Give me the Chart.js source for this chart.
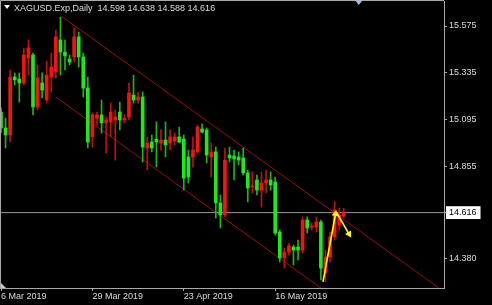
<!DOCTYPE html>
<html>
<head>
<meta charset="utf-8">
<script src="https://cdn.jsdelivr.net/npm/chart.js@4.4.1/dist/chart.umd.min.js"></script>
<style>
html, body { margin: 0; padding: 0; background: #000; overflow: hidden; }
</style>
</head>
<body>
<canvas id="plot" width="492" height="305"></canvas>
<script>
// chart header
const symbolTitle = 'XAGUSD.Exp,Daily  14.598 14.638 14.588 14.616';

// daily candles, index 0 = 6 Mar 2019 (broker has sunday bars)
const opens  = [15.133, 15.051, 15.015, 15.313, 15.303, 15.282, 15.411, 15.426, 15.159, 15.282,
                15.195, 15.313, 15.339, 15.503, 15.441, 15.405, 15.416, 15.519, 15.416, 15.256,
                15.005, 15.102, 15.118, 15.077, 15.082, 15.092, 15.133, 15.092, 15.107, 15.220,
                15.195, 15.210, 14.948, 14.979, 14.994, 14.974, 14.989, 14.974, 14.984, 15.005,
                14.994, 14.902, 14.902, 14.928, 15.046, 15.041, 14.902, 14.928, 14.666, 14.604,
                14.912, 14.907, 14.902, 14.897, 14.820, 14.748, 14.784, 14.732, 14.768, 14.784,
                14.773, 14.516, 14.383, 14.414, 14.439, 14.439, 14.424, 14.578, 14.542, 14.542,
                14.568, 14.306, 14.388, 14.491, 14.552, 14.598];
const highs  = [15.154, 15.102, 15.349, 15.334, 15.334, 15.462, 15.503, 15.436, 15.375, 15.334,
                15.395, 15.436, 15.554, 15.621, 15.503, 15.426, 15.565, 15.544, 15.436, 15.313,
                15.128, 15.133, 15.195, 15.107, 15.179, 15.143, 15.184, 15.118, 15.282, 15.323,
                15.236, 15.236, 15.005, 15.015, 15.082, 15.041, 15.082, 15.041, 15.025, 15.056,
                15.015, 14.938, 15.005, 15.066, 15.071, 15.051, 14.974, 14.953, 14.707, 14.948,
                14.953, 14.938, 14.928, 14.948, 14.835, 14.825, 14.809, 14.825, 14.835, 14.825,
                14.799, 14.527, 14.434, 14.460, 14.450, 14.475, 14.594, 14.594, 14.563, 14.594,
                14.578, 14.424, 14.516, 14.671, 14.640, 14.638];
const lows   = [15.025, 14.948, 14.979, 15.272, 15.184, 15.272, 15.323, 15.118, 15.143, 15.205,
                15.179, 15.236, 15.308, 15.323, 15.349, 15.375, 15.390, 15.364, 15.210, 14.948,
                14.953, 15.066, 15.025, 14.922, 15.005, 14.886, 15.041, 15.077, 15.092, 15.179,
                15.179, 14.876, 14.835, 14.928, 14.850, 14.938, 14.902, 14.938, 14.964, 14.974,
                14.732, 14.768, 14.850, 14.922, 15.025, 14.871, 14.799, 14.588, 14.537, 14.594,
                14.876, 14.784, 14.861, 14.809, 14.671, 14.717, 14.707, 14.645, 14.717, 14.732,
                14.501, 14.362, 14.331, 14.398, 14.347, 14.373, 14.409, 14.511, 14.527, 14.516,
                14.270, 14.260, 14.362, 14.475, 14.527, 14.588];
const closes = [15.051, 15.015, 15.313, 15.298, 15.282, 15.426, 15.462, 15.159, 15.308, 15.246,
                15.323, 15.364, 15.519, 15.441, 15.421, 15.390, 15.519, 15.416, 15.256, 14.979,
                15.118, 15.118, 15.077, 15.092, 15.133, 15.107, 15.092, 15.102, 15.231, 15.195,
                15.210, 14.953, 14.974, 14.948, 14.979, 14.989, 14.964, 15.005, 15.005, 14.979,
                14.794, 14.799, 14.938, 15.056, 15.030, 14.912, 14.928, 14.666, 14.604, 14.886,
                14.897, 14.892, 14.886, 14.820, 14.743, 14.753, 14.732, 14.768, 14.784, 14.758,
                14.511, 14.383, 14.414, 14.445, 14.424, 14.424, 14.578, 14.537, 14.547, 14.568,
                14.331, 14.388, 14.491, 14.630, 14.604, 14.616];

// axes
const dateTickIdx  = [0, 20, 40, 60];
const dateTickText = ['6 Mar 2019', '29 Mar 2019', '23 Apr 2019', '16 May 2019'];
const priceTicks   = [15.575, 15.335, 15.095, 14.855, 14.616, 14.380];
const lastPrice    = 14.616;
const xRange = [-0.22, 96.94];
const yRange = [14.2287, 15.7035];
const shiftMarkIdx = 78.3;

// drawn objects: equidistant channel + yellow arrows  (bar index, price)
const upperChannelX = [13.35, 100];
const upperChannelY = [15.623, 14.158];
const lowerChannelX = [12.04, 100];
const lowerChannelY = [15.209, 13.721];
const arrowUpX   = [70.46, 73.2];
const arrowUpY   = [14.260, 14.609];
const arrowDownX = [73.5, 76.15];
const arrowDownY = [14.614, 14.506];

const upCol = '#f21414', downCol = '#1ee81e';
const upWick = '#c01010', downWick = '#18b818';
const txtCol = '#dcdcdc', frameCol = '#a8a8a8';
const font9 = { family: 'Liberation Sans', size: 9 };

const isUp = opens.map((o, i) => closes[i] >= o);
const wickData = highs.map((h, i) => ({ x: i, y: [lows[i], h] }));
const bodyData = opens.map((o, i) => ({ x: i, y: [Math.min(o, closes[i]), Math.max(o, closes[i])] }));
const pts = (xs, ys) => xs.map((x, i) => ({ x: x, y: ys[i] }));

const mt4Frame = {
    id: 'mt4Frame',
    afterDraw(chart) {
        const c = chart.ctx, a = chart.chartArea;
        c.save();
        // top + left frame lines
        c.strokeStyle = frameCol;
        c.lineWidth = 1;
        c.beginPath();
        c.moveTo(0.5, a.bottom);
        c.lineTo(0.5, a.top - 0.5);
        c.lineTo(a.right, a.top - 0.5);
        c.stroke();
        // title
        c.fillStyle = '#ffffff';
        c.beginPath();
        c.moveTo(4, 5); c.lineTo(10, 5); c.lineTo(7, 9); c.closePath();
        c.fill();
        c.font = '9px "Liberation Sans"';
        c.fillStyle = txtCol;
        c.textBaseline = 'alphabetic';
        c.fillText(symbolTitle, 14, 11);
        // chart shift marker
        const sx = chart.scales.x.getPixelForValue(shiftMarkIdx);
        c.fillStyle = '#a9bccf';
        c.beginPath();
        c.moveTo(sx - 4, 0); c.lineTo(sx + 4, 0); c.lineTo(sx, 5); c.closePath();
        c.fill();
        // corner marker
        c.fillStyle = '#c8c8c8';
        c.beginPath();
        c.moveTo(1, a.bottom - 5); c.lineTo(6, a.bottom); c.lineTo(1, a.bottom); c.closePath();
        c.fill();
        c.restore();
    }
};

new Chart(document.getElementById('plot'), {
    type: 'bar',
    data: {
        datasets: [
            {
                type: 'line', order: 0, data: pts(arrowUpX, arrowUpY),
                borderColor: '#ffff00', borderWidth: 1.6,
                pointRadius: [0, 4], pointStyle: 'triangle', rotation: [0, 10],
                pointBackgroundColor: '#ffff00', pointBorderWidth: 0
            },
            {
                type: 'line', order: 0, data: pts(arrowDownX, arrowDownY),
                borderColor: '#ffff00', borderWidth: 1.6,
                pointRadius: [0, 4], pointStyle: 'triangle', rotation: [0, 150],
                pointBackgroundColor: '#ffff00', pointBorderWidth: 0
            },
            {
                order: 1, data: bodyData, grouped: false, barThickness: 3, minBarLength: 1,
                backgroundColor: isUp.map(u => u ? upCol : downCol), borderWidth: 0
            },
            {
                order: 2, data: wickData, grouped: false, barThickness: 1,
                backgroundColor: isUp.map(u => u ? upWick : downWick), borderWidth: 0
            },
            {
                type: 'line', order: 3,
                data: pts([xRange[0], xRange[1]], [lastPrice, lastPrice]),
                borderColor: '#9a9a9a', borderWidth: 1, pointRadius: 0
            },
            {
                type: 'line', order: 4, data: pts(upperChannelX, upperChannelY),
                borderColor: '#9a0f0f', borderWidth: 1, pointRadius: 0
            },
            {
                type: 'line', order: 4, data: pts(lowerChannelX, lowerChannelY),
                borderColor: '#9a0f0f', borderWidth: 1, pointRadius: 0
            }
        ]
    },
    options: {
        responsive: false,
        animation: false,
        devicePixelRatio: 1,
        layout: { autoPadding: false, padding: { top: 1, left: 0, right: 0, bottom: 0 } },
        plugins: { legend: { display: false }, tooltip: { enabled: false } },
        scales: {
            x: {
                type: 'linear', min: xRange[0], max: xRange[1], offset: false,
                grid: { offset: false, drawOnChartArea: false, tickLength: 3, tickColor: frameCol },
                border: { color: frameCol },
                ticks: {
                    color: txtCol, font: font9, align: 'start', padding: 0,
                    maxRotation: 0, autoSkip: false,
                    callback: (v, i) => dateTickText[i]
                },
                afterBuildTicks: s => { s.ticks = dateTickIdx.map(v => ({ value: v })); },
                afterFit: s => { s.height = 17; s.paddingLeft = 0; s.paddingRight = 0; }
            },
            y: {
                type: 'linear', position: 'right', min: yRange[0], max: yRange[1],
                grid: { drawOnChartArea: false, tickLength: 3, tickColor: frameCol },
                border: { color: frameCol },
                ticks: {
                    font: font9, padding: 2,
                    color: c => c.tick && c.tick.value === lastPrice ? '#000000' : txtCol,
                    showLabelBackdrop: c => !!(c.tick && c.tick.value === lastPrice),
                    backdropColor: '#ffffff',
                    backdropPadding: { left: 3, right: 4, top: 1, bottom: 1 },
                    callback: v => v.toFixed(3)
                },
                afterBuildTicks: s => { s.ticks = priceTicks.map(v => ({ value: v })); },
                afterFit: s => { s.width = 48; s.paddingTop = 0; s.paddingBottom = 0; }
            }
        }
    },
    plugins: [mt4Frame]
});
</script>
</body>
</html>
